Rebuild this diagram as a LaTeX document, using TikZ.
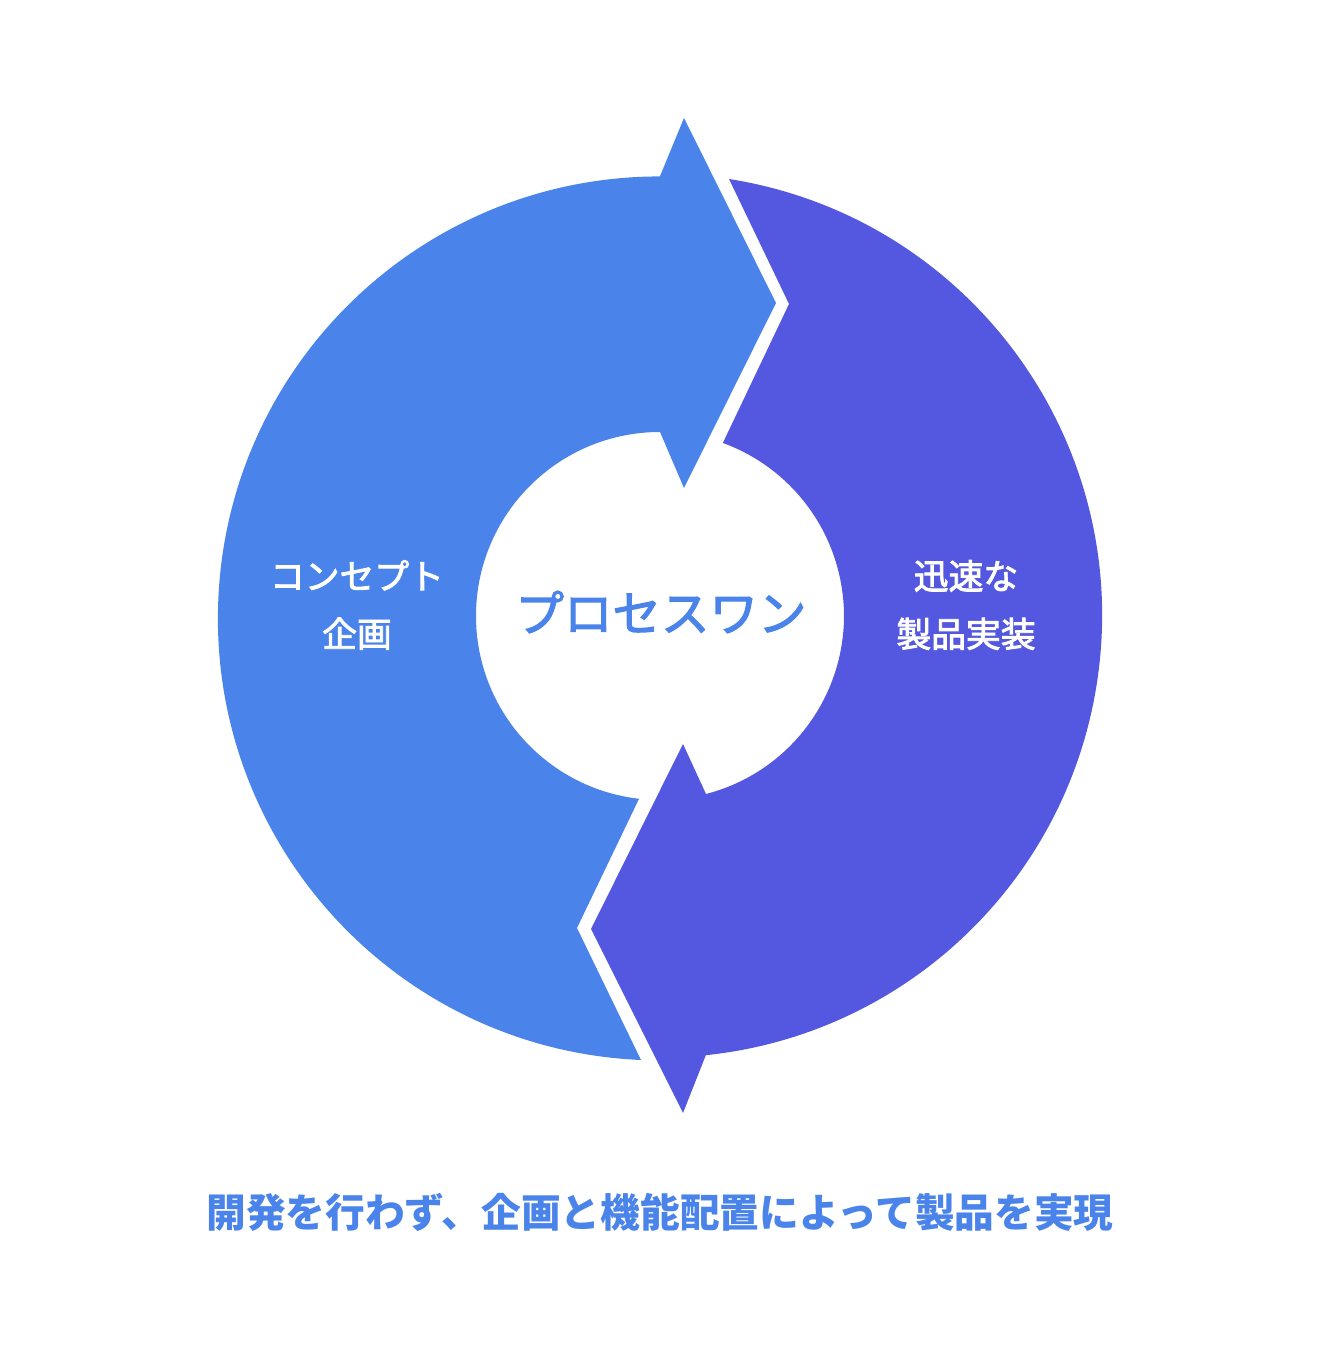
\documentclass[tikz,border=0pt]{standalone}
\usepackage{fontspec}
\newfontfamily\jpfont{Noto Sans CJK JP}
\newfontfamily\jpmid{Noto Sans CJK JP}[FakeBold=2.5]
\usepackage{xcolor}
\usepackage{tikz}
\definecolor{pcBlue}{RGB}{74,132,234}
\definecolor{pcViolet}{RGB}{84,88,224}

\begin{document}
\begin{tikzpicture}[x=0.02cm, y=0.02cm,
    lbl/.style={text=white, align=center, font=\jpmid\fontsize{19.8}{32.9}\selectfont},
    ttl/.style={text=pcBlue, align=center}
  ]
  \useasboundingbox (0,0) rectangle (1322,1360);
  % left half: arrow turning up and right
  \fill[pcBlue] (641,300) arc[start angle=267.55, end angle=90, radius=442]
       -- (684,1242) -- (776,1057) -- (684,872) -- (660,928)
       arc[start angle=90, end angle=263.45, radius=184]
       -- (577,432) -- cycle;
  % right half: arrow turning down and left
  \fill[pcViolet] (729,1181) arc[start angle=81.03, end angle=-84.06, radius=442]
       -- (683,247) -- (591,431) -- (683,616) -- (706,566)
       arc[start angle=-75.5, end angle=70, radius=184]
       -- (789,1056) -- cycle;
  \node[lbl] (concept) at (357,755) {コンセプト\\企画};
  \node[lbl] (rapid) at (966,755) {迅速な\\製品実装};
  \node[ttl, font=\jpmid\fontsize{27.6}{32}\selectfont] (process) at (661,748) {プロセスワン};
  \node[ttl, font=\jpfont\bfseries\fontsize{22.6}{27}\selectfont] (caption) at (660,148)
       {開発を行わず、企画と機能配置によって製品を実現};
\end{tikzpicture}
\end{document}
